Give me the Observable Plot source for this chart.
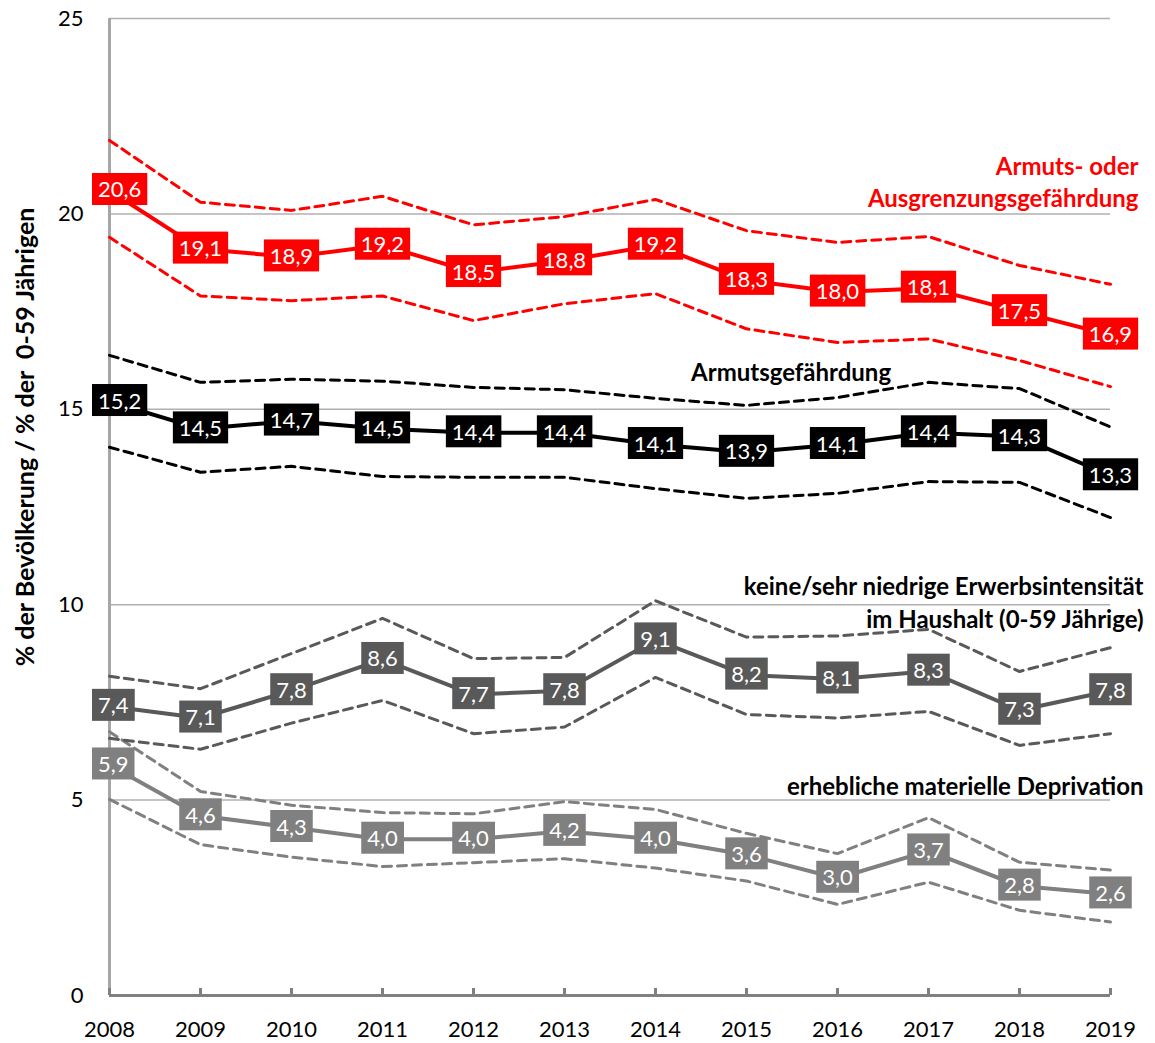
<!DOCTYPE html>
<html><head><meta charset="utf-8">
<script src="https://cdn.jsdelivr.net/npm/d3@7"></script>
<script src="https://cdn.jsdelivr.net/npm/@observablehq/plot@0.6"></script>
<style>
body{margin:0;background:#fff}
svg{font-family:Lato,"Open Sans",sans-serif}
</style>
</head><body><div id="chart"></div>
<script>
const years = [2008,2009,2010,2011,2012,2013,2014,2015,2016,2017,2018,2019];

// Armuts- oder Ausgrenzungsgefährdung (AROPE)
const aropeValue = [20.6,19.1,18.9,19.2,18.5,18.8,19.2,18.3,18.0,18.1,17.5,16.9];
const aropeUpper = [21.88,20.3,20.09,20.45,19.72,19.93,20.37,19.57,19.27,19.42,18.68,18.2];
const aropeLower = [19.4,17.9,17.78,17.9,17.27,17.7,17.96,17.06,16.71,16.8,16.25,15.58];

// Armutsgefährdung (AROP)
const aropValue = [15.2,14.5,14.7,14.5,14.4,14.4,14.1,13.9,14.1,14.4,14.3,13.3];
const aropUpper = [16.38,15.69,15.77,15.72,15.56,15.5,15.28,15.1,15.3,15.69,15.53,14.55];
const aropLower = [14.03,13.39,13.54,13.28,13.26,13.26,12.97,12.72,12.85,13.15,13.13,12.23];

// keine/sehr niedrige Erwerbsintensität im Haushalt
const lwiValue = [7.4,7.1,7.8,8.6,7.7,7.8,9.1,8.2,8.1,8.3,7.3,7.8];
const lwiUpper = [8.17,7.85,8.75,9.65,8.62,8.65,10.1,9.17,9.2,9.37,8.29,8.9];
const lwiLower = [6.58,6.3,6.97,7.55,6.7,6.87,8.14,7.19,7.1,7.27,6.4,6.7];

// erhebliche materielle Deprivation
const smdValue = [5.9,4.6,4.3,4.0,4.0,4.2,4.0,3.6,3.0,3.7,2.8,2.6];
const smdUpper = [6.75,5.22,4.87,4.68,4.65,4.96,4.76,4.15,3.63,4.55,3.41,3.21];
const smdLower = [5.02,3.86,3.54,3.3,3.4,3.5,3.26,2.93,2.33,2.9,2.18,1.88];

const yTicks = [0,5,10,15,20,25];
const yTitle = "% der Bevölkerung / % der  0-59 Jährigen";

const series = [
  {key:"smd",   color:"#808080", value:smdValue,   upper:smdUpper,   lower:smdLower},
  {key:"lwi",   color:"#595959", value:lwiValue,   upper:lwiUpper,   lower:lwiLower},
  {key:"arop",  color:"#000000", value:aropValue,  upper:aropUpper,  lower:aropLower},
  {key:"arope", color:"#ff0000", value:aropeValue, upper:aropeUpper, lower:aropeLower}
];

const rows = s => years.map((year,i)=>({year, value:s.value[i], upper:s.upper[i], lower:s.lower[i]}));
const fmt = v => v.toFixed(1).replace(".", ",");

const marks = [
  Plot.gridY({ticks:[5,10,15,20,25], stroke:"#b0b0b0", strokeOpacity:1, strokeWidth:1.5}),
  Plot.ruleX([2008], {stroke:"#a6a6a6", strokeWidth:3}),
];
for (const s of series) {
  const d = rows(s);
  marks.push(Plot.line(d, {x:"year", y:"upper", stroke:s.color, strokeWidth:3, strokeDasharray:"9,6"}));
  marks.push(Plot.line(d, {x:"year", y:"lower", stroke:s.color, strokeWidth:3, strokeDasharray:"9,6"}));
}
for (const s of series) {
  marks.push(Plot.line(rows(s), {x:"year", y:"value", stroke:s.color, strokeWidth:4}));
}
for (const s of series) {
  marks.push(Plot.text(rows(s), {x:"year", y:"value", text:d=>fmt(d.value), fill:"white", fontSize:22, ariaDescription:"lbl-"+s.key}));
}
const ann = {fontSize:24, fontWeight:"bold", text:d=>d};
marks.push(
  Plot.ruleY([0], {stroke:"#808080", strokeWidth:3}),
  Plot.axisX({ticks:years, tickFormat:d=>String(d), tickSize:-7, tickPadding:33, stroke:"#808080", strokeWidth:3, fontSize:22, fill:"black", label:null}),
  Plot.axisY({ticks:yTicks, tickSize:0, tickPadding:26, fontSize:22, fill:"black", label:null}),
  Plot.text([yTitle], {frameAnchor:"left", text:d=>d, rotate:-90, textAnchor:"middle", dx:-84, dy:-70, fontSize:25, fontWeight:"bold", fill:"black"}),
  // annotations
  Plot.text(["Armuts- oder"], {...ann, x:()=>2019, y:()=>21.19, textAnchor:"end", dx:28, fill:"#ff0000"}),
  Plot.text(["Ausgrenzungsgefährdung"], {...ann, x:()=>2019, y:()=>20.37, textAnchor:"end", dx:28, fill:"#ff0000"}),
  Plot.text(["Armutsgefährdung"], {...ann, x:()=>2015.49, y:()=>15.93, fill:"black"}),
  Plot.text(["keine/sehr niedrige Erwerbsintensität"], {...ann, x:()=>2019, y:()=>10.44, textAnchor:"end", dx:33, fill:"black"}),
  Plot.text(["im Haushalt (0-59 Jährige)"], {...ann, x:()=>2019, y:()=>9.6, textAnchor:"end", dx:33, fill:"black"}),
  Plot.text(["erhebliche materielle Deprivation"], {...ann, x:()=>2019, y:()=>5.32, textAnchor:"end", dx:33, fill:"black"})
);

const chart = Plot.plot({
  width:1155, height:1043,
  marginLeft:109, marginRight:45, marginTop:18, marginBottom:48,
  x:{domain:[2008,2019]},
  y:{domain:[0,25]},
  style:{fontFamily:"Lato, 'Open Sans', sans-serif", background:"white"},
  marks
});
document.getElementById("chart").appendChild(chart);

// draw label boxes behind the value labels (kept inside the chart area on the left)
const svgNS = "http://www.w3.org/2000/svg";
const minLeft = 92;
for (const s of series) {
  const g = chart.querySelector(`g[aria-description="lbl-${s.key}"]`);
  if (!g) continue;
  for (const t of Array.from(g.querySelectorAll("text"))) {
    const b = t.getBBox();
    const w = b.width + 12, h = 32;
    let x0 = b.x + b.width/2 - w/2;
    const ctm = t.getCTM();
    const screenLeft = ctm ? ctm.e + x0 : x0;
    let shift = 0;
    if (screenLeft < minLeft) shift = minLeft - screenLeft;
    const r = document.createElementNS(svgNS, "rect");
    r.setAttribute("x", x0 + shift);
    r.setAttribute("y", b.y + b.height/2 - h/2);
    r.setAttribute("width", w);
    r.setAttribute("height", h);
    r.setAttribute("fill", s.color);
    const tr = t.getAttribute("transform");
    if (tr) r.setAttribute("transform", tr);
    if (shift) t.setAttribute("dx", shift);
    g.insertBefore(r, t);
  }
}
</script>
</body></html>
